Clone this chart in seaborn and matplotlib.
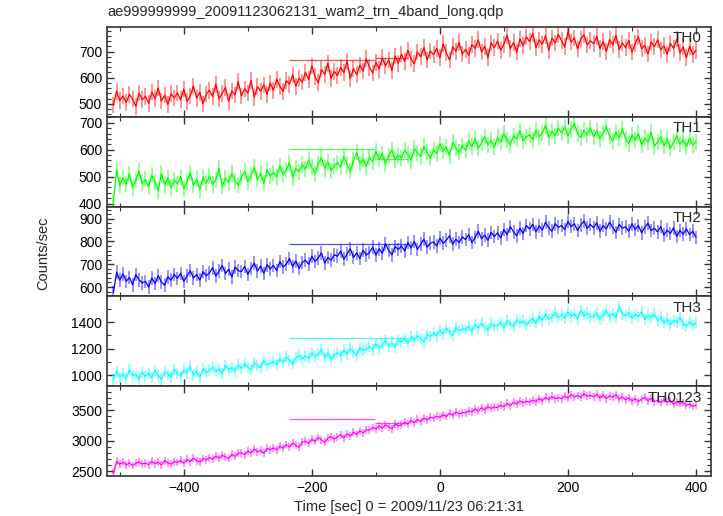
import numpy as np
import pandas as pd
import seaborn as sns
import matplotlib
matplotlib.use("Agg")
import matplotlib.pyplot as plt
from matplotlib.ticker import MultipleLocator

sns.set_style("ticks")
plt.rcParams['font.family'] = ['Liberation Sans', 'DejaVu Sans']

# 5 s bins, -510 .. 400 s
time = np.arange(-510, 401, 5)

th0 = [495, 548, 512, 530, 505, 536, 518, 490, 541, 515,
       528, 502, 545, 519, 560, 510, 533, 497, 538, 522,
       541, 515, 556, 508, 530, 568, 521, 544, 499, 537,
       552, 528, 575, 518, 540, 562, 509, 549, 534, 585,
       530, 557, 541, 590, 525, 566, 548, 572, 536, 579,
       551, 594, 566, 548, 588, 575, 610, 567, 598, 583,
       620, 592, 645, 603, 580, 631, 612, 655, 596, 624,
       608, 640, 619, 662, 597, 634, 611, 648, 625, 672,
       640, 618, 659, 632, 676, 645, 668, 628, 683, 655,
       690, 662, 705, 671, 653, 698, 680, 715, 667, 702,
       688, 712, 676, 730, 695, 668, 718, 701, 735, 690,
       708, 685, 727, 712, 745, 698, 720, 676, 733, 715,
       740, 705, 728, 762, 711, 735, 698, 748, 722, 756,
       738, 770, 715, 744, 728, 760, 705, 752, 733, 765,
       742, 718, 775, 736, 752, 710, 748, 764, 725, 741,
       730, 758, 712, 739, 700, 745, 726, 762, 708, 733,
       715, 742, 698, 730, 756, 711, 724, 690, 737, 718,
       745, 706, 722, 690, 731, 712, 748, 695, 718, 676,
       720, 688, 705]

th1 = [405, 525, 468, 495, 472, 510, 458, 487, 520, 475,
       490, 462, 505, 479, 448, 512, 470, 495, 460, 488,
       474, 500, 455, 482, 515, 468, 490, 452, 498, 476,
       502, 471, 489, 530, 465, 495, 478, 512, 484, 468,
       498, 520, 482, 505, 535, 490, 512, 476, 525, 503,
       515, 498, 540, 508, 525, 552, 497, 530, 518, 545,
       528, 560, 535, 512, 548, 570, 530, 555, 522, 540,
       552, 535, 575, 545, 520, 560, 590, 548, 565, 538,
       572, 555, 595, 565, 585, 548, 578, 600, 562, 580,
       570, 598, 582, 560, 605, 588, 575, 612, 590, 568,
       600, 585, 622, 595, 610, 578, 628, 605, 590, 615,
       598, 632, 612, 640, 605, 625, 648, 618, 635, 610,
       645, 628, 660, 635, 618, 652, 640, 670, 632, 648,
       655, 638, 672, 648, 662, 690, 645, 668, 652, 680,
       662, 685, 650, 675, 698, 660, 645, 672, 655, 680,
       648, 670, 640, 662, 685, 650, 632, 665, 645, 678,
       640, 622, 655, 635, 660, 618, 642, 628, 665, 612,
       630, 648, 615, 640, 605, 628, 652, 620, 638, 610,
       642, 618, 630]

th2 = [575, 665, 630, 658, 625, 642, 610, 655, 632, 618,
       625, 600, 640, 615, 650, 622, 608, 645, 630, 655,
       638, 660, 625, 648, 672, 640, 655, 630, 668, 650,
       662, 685, 648, 670, 695, 660, 678, 645, 688, 672,
       668, 690, 655, 682, 705, 670, 692, 660, 698, 680,
       695, 672, 712, 688, 700, 725, 690, 715, 682, 708,
       718, 700, 735, 712, 728, 750, 705, 730, 718, 742,
       735, 758, 722, 745, 768, 730, 750, 725, 762, 740,
       752, 775, 740, 768, 748, 790, 760, 742, 778, 765,
       780, 758, 795, 772, 800, 765, 788, 810, 775, 792,
       798, 780, 815, 792, 805, 825, 788, 810, 795, 820,
       808, 830, 795, 818, 845, 812, 828, 805, 840, 822,
       838, 815, 852, 830, 865, 842, 825, 858, 835, 870,
       855, 875, 842, 868, 850, 885, 860, 845, 878, 862,
       870, 852, 888, 865, 878, 848, 872, 890, 858, 875,
       860, 882, 845, 870, 855, 885, 862, 840, 875, 858,
       865, 845, 878, 852, 870, 838, 862, 880, 848, 858,
       842, 865, 828, 850, 835, 860, 822, 848, 832, 855,
       830, 845, 818]

th3 = [965, 1030, 985, 1010, 975, 1040, 995, 1005, 970, 1020,
       990, 1015, 980, 1035, 1000, 965, 1025, 1008, 985, 1045,
       1010, 990, 1040, 1015, 1065, 1000, 1030, 985, 1050, 1020,
       1035, 1060, 1025, 1045, 1010, 1075, 1040, 1055, 1030, 1080,
       1050, 1085, 1060, 1040, 1095, 1070, 1055, 1110, 1075, 1090,
       1100, 1080, 1125, 1095, 1140, 1110, 1085, 1130, 1150, 1120,
       1145, 1125, 1170, 1140, 1160, 1195, 1135, 1165, 1120, 1155,
       1170, 1145, 1190, 1160, 1205, 1175, 1150, 1210, 1185, 1200,
       1215, 1190, 1240, 1205, 1230, 1260, 1220, 1245, 1210, 1265,
       1250, 1280, 1240, 1295, 1265, 1300, 1275, 1250, 1310, 1290,
       1320, 1295, 1340, 1310, 1355, 1325, 1300, 1360, 1335, 1350,
       1345, 1370, 1330, 1385, 1355, 1395, 1360, 1340, 1390, 1370,
       1375, 1400, 1360, 1415, 1385, 1370, 1420, 1395, 1410, 1380,
       1405, 1430, 1390, 1445, 1415, 1460, 1425, 1440, 1470, 1435,
       1455, 1430, 1480, 1445, 1465, 1425, 1490, 1450, 1470, 1440,
       1445, 1470, 1425, 1455, 1490, 1440, 1465, 1435, 1520, 1460,
       1450, 1475, 1430, 1460, 1445, 1480, 1420, 1455, 1435, 1465,
       1410, 1440, 1395, 1425, 1380, 1415, 1400, 1435, 1390, 1370,
       1405, 1375, 1395]

th0123 = [2460, 2660, 2610, 2645, 2600, 2635, 2590, 2625, 2650, 2615,
          2630, 2605, 2660, 2620, 2645, 2598, 2670, 2635, 2612, 2655,
          2640, 2675, 2628, 2690, 2655, 2710, 2670, 2645, 2705, 2685,
          2720, 2695, 2745, 2710, 2760, 2730, 2705, 2775, 2740, 2790,
          2800, 2770, 2830, 2795, 2860, 2815, 2840, 2790, 2875, 2850,
          2880, 2850, 2910, 2875, 2935, 2895, 2960, 2920, 2890, 2975,
          2990, 2955, 3020, 2985, 3050, 3010, 2970, 3040, 3065, 3025,
          3060, 3095, 3045, 3110, 3075, 3140, 3100, 3160, 3125, 3180,
          3170, 3215, 3190, 3240, 3205, 3260, 3225, 3195, 3270, 3245,
          3255, 3300, 3270, 3330, 3290, 3350, 3310, 3370, 3340, 3385,
          3365, 3400, 3380, 3425, 3395, 3450, 3415, 3470, 3440, 3460,
          3455, 3490, 3470, 3520, 3485, 3540, 3505, 3560, 3530, 3550,
          3545, 3580, 3555, 3610, 3575, 3630, 3600, 3650, 3620, 3645,
          3630, 3665, 3640, 3690, 3655, 3710, 3675, 3725, 3690, 3705,
          3690, 3730, 3700, 3755, 3715, 3740, 3710, 3770, 3725, 3745,
          3720, 3760, 3700, 3745, 3690, 3735, 3710, 3755, 3680, 3720,
          3670, 3705, 3650, 3690, 3640, 3680, 3710, 3655, 3695, 3640,
          3660, 3625, 3675, 3630, 3650, 3600, 3640, 3610, 3625, 3580,
          3600, 3560, 3585]

bands = ["TH0", "TH1", "TH2", "TH3", "TH0123"]
series = [th0, th1, th2, th3, th0123]
rate_err = [32, 30, 30, 42, 65]
# wide-bin points (centre, half width, rate) per band
wide_t = [-168.5, -76]
wide_dt = [66.5, 26]
wide_rate = [[669, 677], [604, 567], [791, 791], [1278, 1278], [3348, 3287]]

colors = ["#ff0000", "#00ff00", "#0000ff", "#00ffff", "#ff00ff"]
ylims = [(450, 794), (389, 722), (559, 953), (916, 1596), (2418, 3893)]
ymaj = [100, 100, 100, 200, 500]
ymin = [20, 20, 20, 100, 100]

df = pd.DataFrame({"time": np.tile(time, len(bands)),
                   "rate": np.concatenate(series),
                   "band": np.repeat(bands, len(time))})

fig, axes = plt.subplots(5, 1, figsize=(7.23, 5.16), dpi=100, sharex=True)
fig.subplots_adjust(left=0.148, right=0.983, top=0.9477, bottom=0.0775, hspace=0)

for i, ax in enumerate(axes):
    sub = df[df["band"] == bands[i]]
    ax.errorbar(sub["time"], sub["rate"], yerr=rate_err[i], fmt="none",
                ecolor=colors[i], alpha=0.45, elinewidth=1.3)
    sns.lineplot(data=sub, x="time", y="rate", ax=ax, color=colors[i],
                 lw=0.9, sort=False, estimator=None)
    ax.errorbar(wide_t, wide_rate[i], xerr=wide_dt, fmt="none",
                ecolor=colors[i], alpha=0.7, elinewidth=0.9)
    ax.set_xlim(-520, 423)
    ax.set_ylim(*ylims[i])
    ax.xaxis.set_major_locator(MultipleLocator(200))
    ax.xaxis.set_minor_locator(MultipleLocator(100))
    ax.yaxis.set_major_locator(MultipleLocator(ymaj[i]))
    ax.yaxis.set_minor_locator(MultipleLocator(ymin[i]))
    ax.tick_params(which="both", direction="in", top=True, right=True,
                   labelsize=10, colors="#333333", labelcolor="black")
    ax.tick_params(which="major", length=5, width=1)
    ax.tick_params(which="minor", length=3, width=0.8)
    ax.set_xlabel("")
    ax.set_ylabel("")
    for sp in ax.spines.values():
        sp.set_linewidth(1.2)
        sp.set_color("#333333")
    ax.text(0.985, 0.95, bands[i], transform=ax.transAxes, ha="right",
            va="top", fontsize=11)

axes[-1].set_xlabel("Time [sec] 0 = 2009/11/23 06:21:31", fontsize=10.5,
                    labelpad=4)
fig.text(0.06, 0.51, "Counts/sec", rotation=90, ha="center", va="center",
         fontsize=10.5)
fig.text(0.148, 0.963, "ae999999999_20091123062131_wam2_trn_4band_long.qdp",
         ha="left", va="bottom", fontsize=10.5)

fig.savefig("out.png", dpi=100)
